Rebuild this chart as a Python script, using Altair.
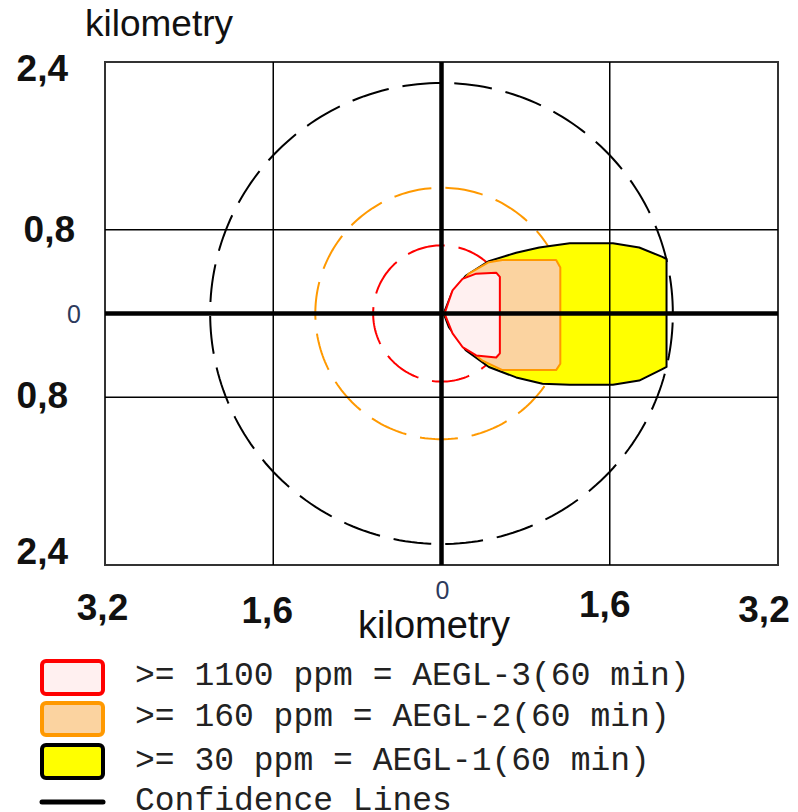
import altair as alt
import numpy as np
import pandas as pd

# ---------------- data (km) ----------------
x_ticks = [-3.2, -1.6, 0.0, 1.6, 3.2]
x_tick_labels = ["3,2", "1,6", "0", "1,6", "3,2"]
y_ticks = [2.4, 0.8, 0.0, -0.8, -2.4]
y_tick_labels = ["2,4", "0,8", "0", "0,8", "2,4"]
grid_x = [-1.6, 1.6]
grid_y = [-0.8, 0.8]

# threat zone outlines (km downwind x, crosswind y)
yellow_x = [0.02, 0.10, 0.23, 0.45, 0.71, 0.93, 1.22, 1.63, 1.88, 2.10, 2.14, 2.14, 2.10, 1.88, 1.63, 1.22, 0.96, 0.71, 0.45, 0.23, 0.07, 0.02]
yellow_y = [0.00, 0.20, 0.36, 0.50, 0.58, 0.63, 0.67, 0.67, 0.63, 0.54, 0.52, -0.51, -0.53, -0.64, -0.68, -0.68, -0.67, -0.61, -0.51, -0.35, -0.13, 0.00]
orange_x = [0.03, 0.14, 0.26, 0.45, 0.58, 1.09, 1.13, 1.13, 1.09, 0.58, 0.39, 0.23, 0.10, 0.03]
orange_y = [0.00, 0.24, 0.38, 0.49, 0.51, 0.51, 0.44, -0.48, -0.54, -0.54, -0.45, -0.32, -0.16, 0.00]
red_x = [0.03, 0.07, 0.105, 0.20, 0.33, 0.52, 0.555, 0.555, 0.52, 0.33, 0.20, 0.105, 0.057, 0.03]
red_y = [0.00, 0.12, 0.22, 0.33, 0.38, 0.39, 0.35, -0.38, -0.42, -0.40, -0.32, -0.19, -0.07, 0.00]

# confidence circle radii (km)
circle_radii = [2.2, 1.2, 0.65]
circle_colors = ["#000000", "#ff9900", "#ff0000"]

legend_labels = [
    ">= 1100 ppm = AEGL-3(60 min)",
    ">= 160 ppm = AEGL-2(60 min)",
    ">= 30 ppm = AEGL-1(60 min)",
    "Confidence Lines",
]

# ---------------- chart ----------------
W, H = 673, 503
xs = alt.Scale(domain=[-3.2, 3.2], nice=False, zero=False)
ys = alt.Scale(domain=[-2.4, 2.4], nice=False, zero=False)
X = lambda f: alt.X(f, type="quantitative", scale=xs, axis=None)
Y = lambda f: alt.Y(f, type="quantitative", scale=ys, axis=None)

layers = []

# circles (under the zones)
theta = np.linspace(0, 2 * np.pi, 241)
for r, c in zip(circle_radii, circle_colors):
    cdf = pd.DataFrame({"x": r * np.cos(theta), "y": r * np.sin(theta), "o": np.arange(len(theta))})
    layers.append(
        alt.Chart(cdf).mark_line(stroke=c, strokeWidth=2, strokeDash=[38, 14], clip=True)
        .encode(x=X("x"), y=Y("y"), order="o:Q")
    )

def poly(xv, yv, fill, stroke, sw):
    df = pd.DataFrame({"x": xv, "y": yv, "o": range(len(xv))})
    return alt.Chart(df).mark_line(fill=fill, stroke=stroke, strokeWidth=sw, strokeJoin="round").encode(
        x=X("x"), y=Y("y"), order="o:Q"
    )

layers.append(poly(yellow_x, yellow_y, "#ffff00", "#000000", 2))
layers.append(poly(orange_x, orange_y, "#fbd3a0", "#ff9900", 2))
layers.append(poly(red_x, red_y, "#fff0f0", "#ff0000", 2))

# thin grid
layers.append(alt.Chart(pd.DataFrame({"v": grid_x})).mark_rule(color="#000", strokeWidth=1.5).encode(x=X("v")))
layers.append(alt.Chart(pd.DataFrame({"v": grid_y})).mark_rule(color="#000", strokeWidth=1.5).encode(y=Y("v")))
# thick centre axes
layers.append(alt.Chart(pd.DataFrame({"v": [0.0]})).mark_rule(color="#000", strokeWidth=4.5).encode(x=X("v")))
layers.append(alt.Chart(pd.DataFrame({"v": [0.0]})).mark_rule(color="#000", strokeWidth=4.5).encode(y=Y("v")))

# tick labels
big = dict(font="Liberation Sans", fontSize=37, fontWeight="bold", color="#111")
small = dict(font="Liberation Sans", fontSize=25, fontWeight="normal", color="#2d3a5c")
x_offsets = [(-2.5, 547), (-6, 550), (1, 529), (-5, 544), (-14, 549)]
for v, t, (dx, py) in zip(x_ticks, x_tick_labels, x_offsets):
    st = small if t == "0" else big
    layers.append(
        alt.Chart(pd.DataFrame({"v": [v], "t": [t]})).mark_text(align="center", baseline="middle", dx=dx, **st)
        .encode(x=X("v"), y=alt.value(py), text="t:N")
    )
y_offsets = [(-37, 8), (-30, 1), (-24, 1), (-37, 0), (-37, -12)]
for v, t, (px, dy) in zip(y_ticks, y_tick_labels, y_offsets):
    st = small if t == "0" else big
    layers.append(
        alt.Chart(pd.DataFrame({"v": [v], "t": [t]})).mark_text(align="right", baseline="middle", dy=dy, **st)
        .encode(x=alt.value(px), y=Y("v"), text="t:N")
    )

one = pd.DataFrame({"a": [0]})
# axis titles
layers.append(alt.Chart(one).mark_text(text="kilometry", align="left", baseline="alphabetic",
                                       font="Liberation Sans", fontSize=37, color="#111")
              .encode(x=alt.value(-20), y=alt.value(-26)))
layers.append(alt.Chart(one).mark_text(text="kilometry", align="left", baseline="alphabetic",
                                       font="Liberation Sans", fontSize=38, color="#111")
              .encode(x=alt.value(253), y=alt.value(576)))

# legend
boxes = [
    (599, 632, "#fff0f0", "#ff0000"),
    (641, 673, "#fbd3a0", "#ff9900"),
    (683, 716, "#ffff00", "#000000"),
]
for (y1, y2, f, s) in boxes:
    layers.append(alt.Chart(one).mark_rect(fill=f, stroke=s, strokeWidth=4, cornerRadius=4)
                  .encode(x=alt.value(-63), x2=alt.value(-2), y=alt.value(y1), y2=alt.value(y2)))
layers.append(alt.Chart(one).mark_rule(color="#000", strokeWidth=5, strokeCap="round")
              .encode(x=alt.value(-63), x2=alt.value(-2), y=alt.value(740)))
for t, py in zip(legend_labels, [613, 654, 698, 738]):
    layers.append(alt.Chart(pd.DataFrame({"t": [t]})).mark_text(align="left", baseline="middle",
                                                                 font="Liberation Mono", fontSize=33, color="#222")
                  .encode(x=alt.value(30), y=alt.value(py), text="t:N"))

chart = alt.layer(*layers).properties(
    width=W, height=H,
    autosize=alt.AutoSizeParams(type="none"),
    padding={"left": 97, "top": 54, "right": 12, "bottom": 247},
).configure_view(stroke="#333", strokeWidth=2)

chart.save("out.html", embed_options={"renderer": "svg", "actions": False})
